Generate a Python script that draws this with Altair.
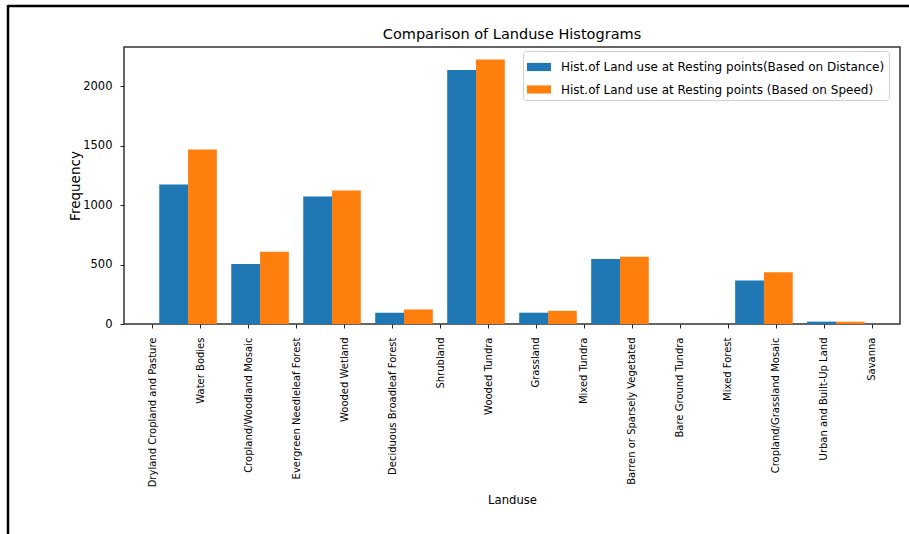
import altair as alt
import pandas as pd

# Land-use classes, in code order along the x axis
landuse = [
    "Dryland Cropland and Pasture", "Water Bodies", "Cropland/Woodland Mosaic",
    "Evergreen Needleleaf Forest", "Wooded Wetland", "Deciduous Broadleaf Forest",
    "Shrubland", "Wooded Tundra", "Grassland", "Mixed Tundra",
    "Barren or Sparsely Vegetated", "Bare Ground Tundra", "Mixed Forest",
    "Cropland/Grassland Mosaic", "Urban and Built-Up Land", "Savanna",
]

# Histogram bin edges (10 bins over the class codes)
bin_edges = [0.0, 1.5, 3.0, 4.5, 6.0, 7.5, 9.0, 10.5, 12.0, 13.5, 15.0]

# Counts per bin
dist_counts = [1172, 505, 1071, 95, 2134, 95, 546, 0, 365, 20]
speed_counts = [1467, 608, 1121, 122, 2223, 111, 566, 0, 435, 19]

series_names = [
    "Hist.of Land use at Resting points(Based on Distance)",
    "Hist.of Land use at Resting points (Based on Speed)",
]
colors = ["#1f77b4", "#ff7f0e"]

# Side-by-side bars inside each bin: 80% of the bin split between two series
rows = []
for i in range(len(bin_edges) - 1):
    lo, hi = bin_edges[i], bin_edges[i + 1]
    w = hi - lo
    for s, counts in enumerate([dist_counts, speed_counts]):
        start = lo + 0.1 * w + s * 0.4 * w
        rows.append({
            "series": series_names[s],
            "x0": start,
            "x1": start + 0.4 * w,
            "count": counts[i],
        })
df = pd.DataFrame(rows)

FONT = "DejaVu Sans"
label_expr = "[" + ",".join("'" + n + "'" for n in landuse) + "][datum.value]"

x_scale = alt.Scale(domain=[-0.585, 15.585], nice=False, zero=False)
y_scale = alt.Scale(domain=[0, 2328], nice=False)

bars = alt.Chart(df).mark_bar(stroke=None).encode(
    x=alt.X(
        "x0:Q",
        scale=x_scale,
        title="Landuse",
        axis=alt.Axis(
            values=list(range(len(landuse))),
            labelExpr=label_expr,
            labelAngle=270,
            labelAlign="right",
            labelBaseline="middle",
            labelFontSize=10,
            labelPadding=9,
            labelFont=FONT,
            labelColor="#000000",
            labelOverlap=False,
            labelFlush=False,
            tickSize=4,
            tickColor="#222222",
            tickWidth=1,
            domain=False,
            grid=False,
            titleFont=FONT,
            titleFontSize=11.6,
            titleFontWeight="normal",
            titleColor="#000000",
            titlePadding=8,
        ),
    ),
    x2="x1:Q",
    y=alt.Y(
        "count:Q",
        scale=y_scale,
        title="Frequency",
        axis=alt.Axis(
            values=[0, 500, 1000, 1500, 2000],
            format="d",
            labelFontSize=11.5,
            labelFont=FONT,
            labelColor="#000000",
            labelPadding=8,
            tickSize=4,
            tickColor="#222222",
            tickWidth=1,
            domain=False,
            grid=False,
            titleFont=FONT,
            titleFontSize=13.5,
            titleFontWeight="normal",
            titleColor="#000000",
            titlePadding=0,
        ),
    ),
    y2=alt.datum(0),
    color=alt.Color(
        "series:N",
        scale=alt.Scale(domain=series_names, range=colors),
        sort=series_names,
        legend=alt.Legend(
            title=None,
            orient="none",
            legendX=399,
            legendY=4,
            symbolType="M-1,-0.34H1V0.34H-1Z",
            symbolSize=576,
            symbolStrokeWidth=0,
            labelFont=FONT,
            labelFontSize=12,
            labelColor="#000000",
            labelOffset=10,
            labelLimit=400,
            rowPadding=4.5,
            padding=4,
            strokeColor="#d0d0d0",
            fillColor="#ffffff",
            cornerRadius=3,
        ),
    ),
)

# Figure frame lines (top and left edges of the figure)
frame_top = alt.Chart(pd.DataFrame({"k": [0]})).mark_rule(
    color="#000000", strokeWidth=2.5
).encode(x=alt.value(-116), x2=alt.value(785), y=alt.value(-41))
frame_left = alt.Chart(pd.DataFrame({"k": [0]})).mark_rule(
    color="#000000", strokeWidth=2.5
).encode(x=alt.value(-116), y=alt.value(-42), y2=alt.value(487))

chart = alt.layer(bars, frame_top, frame_left).properties(
    width=776,
    height=277,
    autosize=alt.AutoSizeParams(type="none"),
    padding={"left": 124, "top": 47, "right": 9, "bottom": 210},
    title=alt.TitleParams(
        "Comparison of Landuse Histograms",
        font=FONT,
        fontSize=14.5,
        fontWeight="normal",
        color="#000000",
        anchor="middle",
        baseline="alphabetic",
        offset=0,
        dy=49.5,
    ),
).configure(
    background="#ffffff"
).configure_view(
    stroke="#333333",
    strokeWidth=1.5,
)

chart.save("out.html", embed_options={"renderer": "svg", "actions": False})
